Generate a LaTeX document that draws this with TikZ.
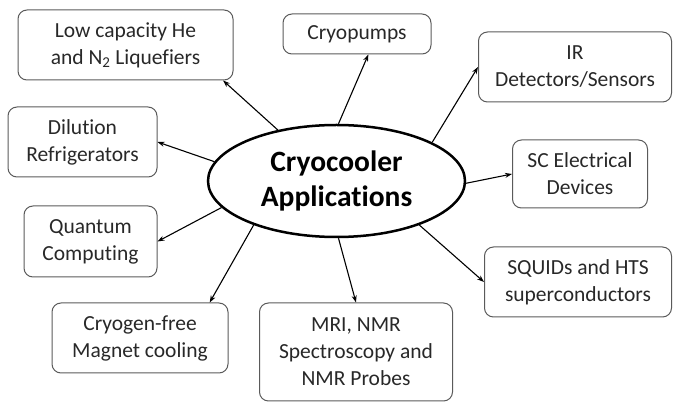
\documentclass[tikz,border=0pt]{standalone}
\usepackage{fontspec}
\setmainfont{Carlito}[Ligatures=NoCommon]
\usepackage{tikz}
\usetikzlibrary{arrows.meta}
\usetikzlibrary{shapes.geometric}
\definecolor{boxgray}{RGB}{90, 90, 90}
\definecolor{txtgray}{RGB}{40, 40, 40}

\begin{document}
\begin{tikzpicture}[x=1pt,y=-1pt,
  app/.style={rectangle,draw=boxgray,rounded corners=9pt,line width=1pt,
    align=center,inner sep=0pt,text=txtgray,
    font=\fontsize{21.5}{27}\selectfont},
  hub/.style={ellipse,draw=black,line width=2.5pt,minimum width=257pt,
    minimum height=112pt,align=center,inner sep=0pt,
    font=\fontsize{29.5}{35}\selectfont\bfseries},
  arr/.style={-{Stealth[length=7pt,width=5pt]},line width=1.1pt,color=black}
]
  \useasboundingbox (0,0) rectangle (673,403);
  \node[hub] (cc) at (336.5,181) {Cryocooler\\Applications};
  \node[app,minimum width=215pt,minimum height=70pt] (lhe) at (125.5,45)
    {Low capacity He\\and N\textsubscript{2} Liquefiers};
  \node[app,minimum width=148pt,minimum height=40pt] (pump) at (357,34)
    {Cryopumps};
  \node[app,minimum width=193pt,minimum height=70pt] (ir) at (575,67)
    {IR\\Detectors/Sensors};
  \node[app,minimum width=135pt,minimum height=68pt] (sc) at (580,174)
    {SC Electrical\\Devices};
  \node[app,minimum width=187pt,minimum height=70pt] (sq) at (578,282)
    {SQUIDs and HTS\\superconductors};
  \node[app,minimum width=193pt,minimum height=98pt] (mri) at (356,352)
    {MRI, NMR\\Spectroscopy and\\NMR Probes};
  \node[app,minimum width=176pt,minimum height=70pt] (mag) at (140,338)
    {Cryogen-free\\Magnet cooling};
  \node[app,minimum width=133pt,minimum height=71pt] (qc) at (90.5,241.5)
    {Quantum\\Computing};
  \node[app,minimum width=149pt,minimum height=70pt] (dil) at (82.5,142)
    {Dilution\\Refrigerators};
  % spokes
  \draw[arr] (cc.139) -- (lhe.-20);
  \draw[arr] (cc.88) -- (pump.-61);
  \draw[arr] (cc.22) -- (ir.west);
  \draw[arr] (cc.-1) -- (sc.west);
  \draw[arr] (cc.-28) -- (sq.west);
  \draw[arr] (cc.-88) -- (mri.north);
  \draw[arr] (cc.208) -- (mag.27);
  \draw[arr] (cc.193) -- (qc.east);
  \draw[arr] (cc.171) -- (dil.east);
\end{tikzpicture}
\end{document}
